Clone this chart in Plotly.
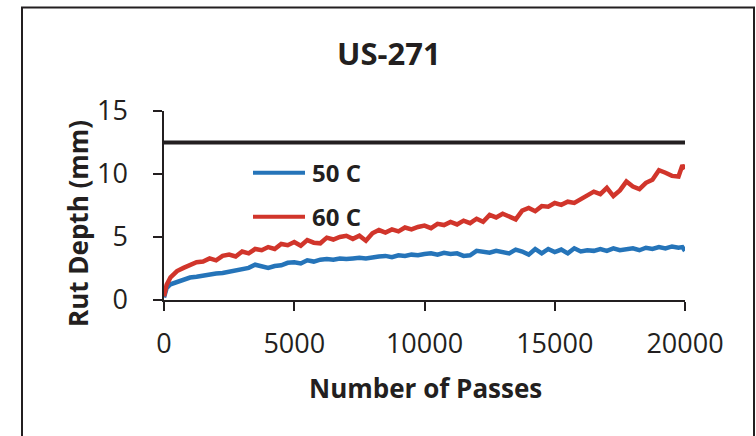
import plotly.graph_objects as go

# ---- data ----
passes = [0, 50, 100, 250, 500, 750, 1000, 1250, 1500, 1750, 2000, 2250, 2500, 2750,
          3000, 3250, 3500, 3750, 4000, 4250, 4500, 4750, 5000, 5250, 5500, 5750,
          6000, 6250, 6500, 6750, 7000, 7250, 7500, 7750, 8000, 8250, 8500, 8750,
          9000, 9250, 9500, 9750, 10000, 10250, 10500, 10750, 11000, 11250, 11500,
          11750, 12000, 12250, 12500, 12750, 13000, 13250, 13500, 13750, 14000,
          14250, 14500, 14750, 15000, 15250, 15500, 15750, 16000, 16250, 16500,
          16750, 17000, 17250, 17500, 17750, 18000, 18250, 18500, 18750, 19000,
          19250, 19500, 19750, 19900, 20000]

rut_50c = [0.2, 0.7, 0.95, 1.25, 1.45, 1.65, 1.78, 1.85, 1.95, 2.0, 2.1, 2.15, 2.25, 2.3,
           2.45, 2.55, 2.8, 2.65, 2.55, 2.7, 2.75, 2.95, 3.0, 2.9, 3.15, 3.05,
           3.2, 3.25, 3.2, 3.3, 3.25, 3.3, 3.35, 3.3, 3.4, 3.45, 3.5, 3.4,
           3.55, 3.5, 3.6, 3.55, 3.65, 3.7, 3.6, 3.75, 3.65, 3.7, 3.5,
           3.55, 3.9, 3.85, 3.75, 3.9, 3.8, 3.7, 4.0, 3.85, 3.6,
           4.05, 3.7, 4.05, 3.8, 4.0, 3.7, 4.1, 3.85, 3.95, 3.9,
           4.05, 3.9, 4.1, 3.95, 4.0, 4.1, 3.95, 4.15, 4.05, 4.2,
           4.1, 4.25, 4.15, 4.2, 3.9]

rut_60c = [0.3, 0.9, 1.2, 1.8, 2.3, 2.55, 2.8, 3.0, 3.05, 3.3, 3.15, 3.5, 3.6, 3.45,
           3.85, 3.7, 4.05, 3.95, 4.2, 4.05, 4.45, 4.35, 4.6, 4.3, 4.75, 4.55,
           4.5, 4.95, 4.8, 5.0, 5.1, 4.85, 5.1, 4.7, 5.3, 5.55, 5.35, 5.6,
           5.45, 5.75, 5.6, 5.8, 5.9, 5.7, 6.05, 5.95, 6.2, 6.0, 6.3,
           6.1, 6.45, 6.2, 6.75, 6.55, 6.85, 6.6, 6.4, 7.1, 7.3,
           7.05, 7.45, 7.4, 7.7, 7.55, 7.8, 7.7, 8.0, 8.2, 8.6,
           8.4, 8.9, 8.25, 8.7, 9.4, 9.0, 8.8, 9.3, 9.55, 10.3,
           10.1, 9.85, 9.8, 10.7, 10.4]

limit_x = [0, 20000]
limit_y = [12.5, 12.5]

series_names = ["50 C", "60 C"]
x_ticks = [0, 5000, 10000, 15000, 20000]
y_ticks = [0, 5, 10, 15]

BLUE = "#2574b9"
RED = "#d1352b"
INK = "#231f20"
FONT = "Open Sans"

fig = go.Figure()
fig.add_trace(go.Scatter(x=limit_x, y=limit_y, mode="lines",
                         line=dict(color=INK, width=4), showlegend=False,
                         hoverinfo="skip"))
fig.add_trace(go.Scatter(x=passes, y=rut_50c, mode="lines", name=series_names[0],
                         line=dict(color=BLUE, width=4.5), showlegend=False))
fig.add_trace(go.Scatter(x=passes, y=rut_60c, mode="lines", name=series_names[1],
                         line=dict(color=RED, width=4.5), showlegend=False))

L, R, T, B = 164, 71, 111, 136
W, H = 756, 436
pw, ph = W - L - R, H - T - B

def px(x):
    return (x - L) / pw

def py(y):
    return (H - B - y) / ph

shapes = [
    # outer chart frame
    dict(type="rect", xref="paper", yref="paper",
         x0=px(22), x1=px(754), y0=py(445), y1=py(7.5),
         line=dict(color=INK, width=2), fillcolor="rgba(0,0,0,0)", layer="below"),
    # legend samples
    dict(type="line", xref="paper", yref="paper", x0=px(253), x1=px(305),
         y0=py(172.7), y1=py(172.7), line=dict(color=BLUE, width=4)),
    dict(type="line", xref="paper", yref="paper", x0=px(253), x1=px(305),
         y0=py(216.7), y1=py(216.7), line=dict(color=RED, width=4)),
]

annotations = [
    dict(text="<b>US-271</b>", xref="paper", yref="paper", x=px(388.5), y=py(53),
         xanchor="center", yanchor="middle", showarrow=False,
         font=dict(family=FONT, size=31, color=INK)),
    dict(text="<b>Number of Passes</b>", xref="paper", yref="paper", x=px(425), y=py(388),
         xanchor="center", yanchor="middle", showarrow=False,
         font=dict(family=FONT, size=26, color=INK)),
    dict(text="<b>Rut Depth (mm)</b>", xref="paper", yref="paper", x=px(78), y=py(224),
         xanchor="center", yanchor="middle", showarrow=False, textangle=-90,
         font=dict(family=FONT, size=26, color=INK)),
    dict(text="<b>" + series_names[0] + "</b>", xref="paper", yref="paper", x=px(310), y=py(172),
         xanchor="left", yanchor="middle", showarrow=False,
         font=dict(family=FONT, size=24, color=INK)),
    dict(text="<b>" + series_names[1] + "</b>", xref="paper", yref="paper", x=px(310), y=py(216),
         xanchor="left", yanchor="middle", showarrow=False,
         font=dict(family=FONT, size=24, color=INK)),
]

fig.update_layout(
    width=W, height=H,
    margin=dict(l=L, r=R, t=T, b=B, pad=0),
    paper_bgcolor="white", plot_bgcolor="white",
    showlegend=False,
    shapes=shapes, annotations=annotations,
    xaxis=dict(range=[0, 20000], tickvals=x_ticks, ticktext=[str(v) for v in x_ticks],
               showline=True, linecolor=INK, linewidth=1.5, ticks="outside",
               ticklen=9, tickwidth=1.5, tickcolor=INK, showgrid=False, zeroline=False,
               tickfont=dict(family=FONT, size=27, color=INK), ticklabelstandoff=10),
    yaxis=dict(range=[0, 15], tickvals=y_ticks, ticktext=[str(v) for v in y_ticks],
               showline=True, linecolor=INK, linewidth=1.5, ticks="outside",
               ticklen=9, tickwidth=1.5, tickcolor=INK, showgrid=False, zeroline=False,
               tickfont=dict(family=FONT, size=27, color=INK), ticklabelstandoff=20),
)

fig.write_html("out.html")
